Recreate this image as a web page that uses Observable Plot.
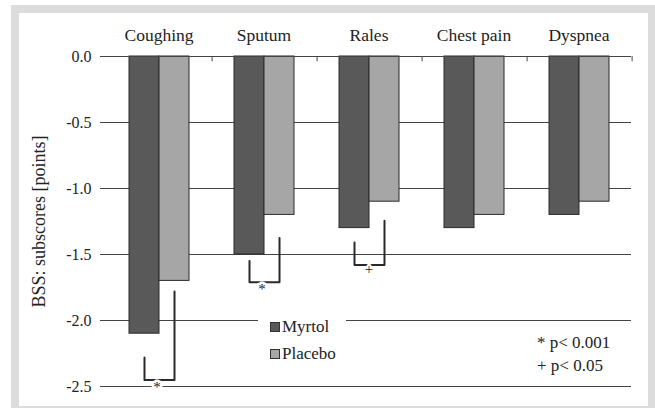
<!DOCTYPE html>
<html>
<head>
<meta charset="utf-8">
<script src="https://cdn.jsdelivr.net/npm/d3@7"></script>
<script src="https://cdn.jsdelivr.net/npm/@observablehq/plot@0.6"></script>
<style>
  html, body { margin: 0; padding: 0; background: #fff; }
  #wrap { position: relative; width: 655px; height: 408px; overflow: hidden; font-family: "Liberation Serif", serif; color: #222; }
  #frame { position: absolute; left: 11px; top: 5px; width: 644px; height: 403px; background: #dcdcdc; }
  #panel { position: absolute; left: 19px; top: 13px; width: 629px; height: 393px; background: #fff; }
  #chart { position: absolute; left: 0; top: 0; }
  #chart svg text { font-family: "Liberation Serif", serif; }
  .ov { position: absolute; font-size: 17px; line-height: 1; white-space: nowrap; font-family: "Liberation Serif", serif; }
  #legend { position: absolute; left: 258px; top: 306px; width: 88px; height: 62px; background: #fff; }
  .sw { position: absolute; width: 8px; height: 8px; border: 1px solid #333; }
</style>
</head>
<body>
<div id="wrap">
  <div id="frame"></div>
  <div id="panel"></div>
  <div id="chart"></div>
  <div id="legend"></div>
  <div id="notes"></div>
</div>
<script>
const categories = ["Coughing", "Sputum", "Rales", "Chest pain", "Dyspnea"];
const groups = ["Myrtol", "Placebo"];
const myrtol = [-2.1, -1.5, -1.3, -1.3, -1.2];
const placebo = [-1.7, -1.2, -1.1, -1.2, -1.1];
const groupColors = ["#595959", "#a6a6a6"];
const yTicks = [0, -0.5, -1.0, -1.5, -2.0, -2.5];
const yLabel = "BSS: subscores [points]";
const bracketCats = ["Coughing", "Sputum", "Rales"];
const bracketLeftTop = [-2.28, -1.55, -1.41];
const bracketRightTop = [-1.78, -1.375, -1.245];
const bracketBottom = [-2.45, -1.71, -1.58];
const bracketSymbols = ["*", "*", "+"];
const pNotes = ["* p< 0.001", "+ p< 0.05"];

const data = categories.flatMap((c, i) => [
  {category: c, group: groups[0], value: myrtol[i]},
  {category: c, group: groups[1], value: placebo[i]}
]);
const bracketPts = bracketCats.flatMap((c, i) => [
  {category: c, group: groups[0], y: bracketLeftTop[i]},
  {category: c, group: groups[0], y: bracketBottom[i]},
  {category: c, group: groups[1], y: bracketBottom[i]},
  {category: c, group: groups[1], y: bracketRightTop[i]}
]);
const bracketMarks = bracketCats.map((c, i) => ({category: c, y: bracketBottom[i], symbol: bracketSymbols[i]}));

const chart = Plot.plot({
  width: 655,
  height: 408,
  marginTop: 56,
  marginBottom: 22,
  marginLeft: 105,
  marginRight: 24,
  style: {background: "transparent", fontFamily: "'Liberation Serif', serif", fontSize: "17px", color: "#222", overflow: "visible"},
  fx: {domain: categories, padding: 0},
  x: {domain: groups, paddingInner: 0, paddingOuter: 0.75, axis: null},
  y: {domain: [-2.5, 0]},
  color: {domain: groups, range: groupColors},
  marks: [
    Plot.ruleY(yTicks, {stroke: "#444", strokeWidth: 1}),
    Plot.barY(data, {fx: "category", x: "group", y: "value", fill: "group", stroke: "#2a2a2a", strokeWidth: 1}),
    Plot.ruleY([0], {stroke: "#444", strokeWidth: 1}),
    Plot.ruleX(categories, {fx: d => d, x: () => groups[1], y1: 0, y2: -0.04, dx: 37.6, stroke: "#444"}),
    Plot.line(bracketPts, {fx: "category", x: "group", y: "y", z: "category", stroke: "#2a2a2a", strokeWidth: 2}),
    Plot.text(bracketMarks.filter(d => d.symbol === "*"), {fx: "category", y: "y", text: "symbol", dy: 7, dx: -2, fontSize: 15, fill: "#222", stroke: "white", strokeWidth: 5, paintOrder: "stroke"}),
    Plot.text(bracketMarks.filter(d => d.symbol === "+"), {fx: "category", y: "y", text: "symbol", dy: 4, fontSize: 15, fill: "#222", stroke: "white", strokeWidth: 4, paintOrder: "stroke"}),
    Plot.axisFx({anchor: "top", tickSize: 0, tickPadding: 16, label: null, fontSize: 17.5}),
    Plot.axisY({ticks: yTicks, tickFormat: d => d.toFixed(1), tickSize: 6, tickPadding: 9, fontSize: 16, label: null, line: true, stroke: "#444"}),
    Plot.axisY({ticks: [], tickSize: 0, fontSize: 18, label: yLabel, labelAnchor: "center", labelArrow: "none", labelOffset: 74})
  ]
});
document.getElementById("chart").appendChild(chart);

// legend (inside plot area, white box)
const legend = document.getElementById("legend");
groups.forEach((g, i) => {
  const sw = document.createElement("div");
  sw.className = "sw";
  sw.style.left = "12px";
  sw.style.top = (16 + i * 27) + "px";
  sw.style.background = groupColors[i];
  legend.appendChild(sw);
  const t = document.createElement("div");
  t.className = "ov";
  t.style.left = "24px";
  t.style.top = (12 + i * 27) + "px";
  t.textContent = g;
  legend.appendChild(t);
});
const notes = document.getElementById("notes");
pNotes.forEach((s, i) => {
  const t = document.createElement("div");
  t.className = "ov";
  t.style.left = "537px";
  t.style.top = (334 + i * 23) + "px";
  t.textContent = s;
  notes.appendChild(t);
});
</script>
</body>
</html>
